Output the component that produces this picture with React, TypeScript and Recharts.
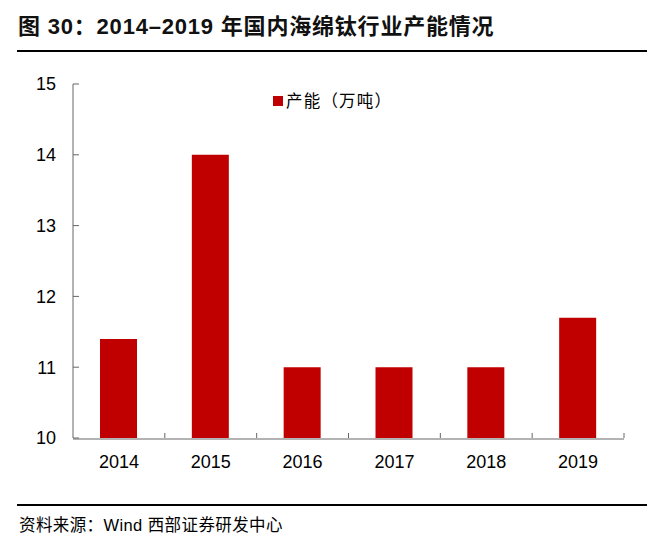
import React from 'react';
import { BarChart, Bar, XAxis, YAxis, Legend } from 'recharts';

const years = ['2014', '2015', '2016', '2017', '2018', '2019'];
const capacity = [11.4, 14, 11, 11, 11, 11.7];
const yTicks = [10, 11, 12, 13, 14, 15];
const boundaryTicks = [1, 2, 3, 4, 5, 6];

const data = years.map((year, i) => ({ year, idx: i + 0.5, capacity: capacity[i] }));

const FONT = '"Liberation Sans", Arial, "Noto Sans CJK SC", sans-serif';
const AXIS = '#666666';
const RED = '#C00000';

// y labels plus a short inward tick on the axis
const YTick = (props: any) => {
  const { x, y, payload } = props;
  const axisX = x + 17;
  return (
    <g>
      <line x1={axisX} x2={axisX + 6} y1={y} y2={y} stroke={AXIS} strokeWidth={1} />
      <text x={x} y={y} dy="0.355em" textAnchor="end" fill="#000" fontSize={18} fontFamily={FONT}>
        {payload.value}
      </text>
    </g>
  );
};

// x labels only; boundary ticks come from the numeric axis
const EmptyTick = () => <g />;

const LegendBox = () => (
  <div style={{ display: 'flex', alignItems: 'center', fontFamily: FONT, fontSize: 16.5, color: '#000', lineHeight: '20px' }}>
    <span style={{ width: 10, height: 10, background: RED, display: 'inline-block' }} />
    <span style={{ marginLeft: 3, letterSpacing: 1.2 }}>产能（万吨）</span>
  </div>
);

export default function App() {
  return (
    <div style={{ position: 'absolute', left: 0, top: 0, width: 657, height: 548, background: '#fff', overflow: 'hidden' }}>
      <div
        style={{
          position: 'absolute', left: 18, top: 12, fontFamily: FONT, fontWeight: 'bold',
          fontSize: 22, letterSpacing: 0.8, color: '#111', whiteSpace: 'nowrap', lineHeight: '30px',
        }}
      >
        图 30：2014–2019 年国内海绵钛行业产能情况
      </div>
      <div style={{ position: 'absolute', left: 17, top: 50, width: 630, height: 2, background: '#000' }} />

      <div style={{ position: 'absolute', left: 0, top: 0 }}>
        <BarChart width={657} height={548} data={data} margin={{ top: 84, right: 33, bottom: 79, left: 0 }}>
          <XAxis
            xAxisId="b1"
            dataKey="year"
            height={30}
            axisLine={{ stroke: AXIS, strokeWidth: 1 }}
            tickLine={false}
            tickSize={0}
            tickMargin={16}
            interval={0}
            tick={{ fill: '#000', fontSize: 18, fontFamily: FONT }}
          />
          <XAxis
            xAxisId="a0"
            dataKey="idx"
            type="number"
            domain={[0, 6]}
            ticks={boundaryTicks}
            interval={0}
            height={1}
            axisLine={false}
            tick={<EmptyTick />}
            tickSize={-5}
            tickLine={{ stroke: AXIS, strokeWidth: 1 }}
            allowDataOverflow
          />
          <YAxis
            width={73}
            domain={[10, 15]}
            ticks={yTicks}
            interval={0}
            allowDataOverflow
            axisLine={{ stroke: AXIS, strokeWidth: 1 }}
            tickLine={false}
            tickSize={0}
            tickMargin={17}
            tick={<YTick />}
          />
          <Legend
            layout="vertical"
            align="center"
            verticalAlign="middle"
            content={<LegendBox />}
            wrapperStyle={{ top: 91, left: 273, width: 'auto', height: 'auto' }}
          />
          <Bar xAxisId="b1" dataKey="capacity" fill={RED} barSize={37} isAnimationActive={false} />
        </BarChart>
      </div>

      <div style={{ position: 'absolute', left: 17, top: 504, width: 630, height: 2, background: '#000' }} />
      <div
        style={{
          position: 'absolute', left: 19, top: 514, fontFamily: FONT, fontSize: 16.5,
          letterSpacing: 0.4, color: '#000', whiteSpace: 'nowrap', lineHeight: '22px',
        }}
      >
        资料来源：Wind 西部证券研发中心
      </div>
    </div>
  );
}
